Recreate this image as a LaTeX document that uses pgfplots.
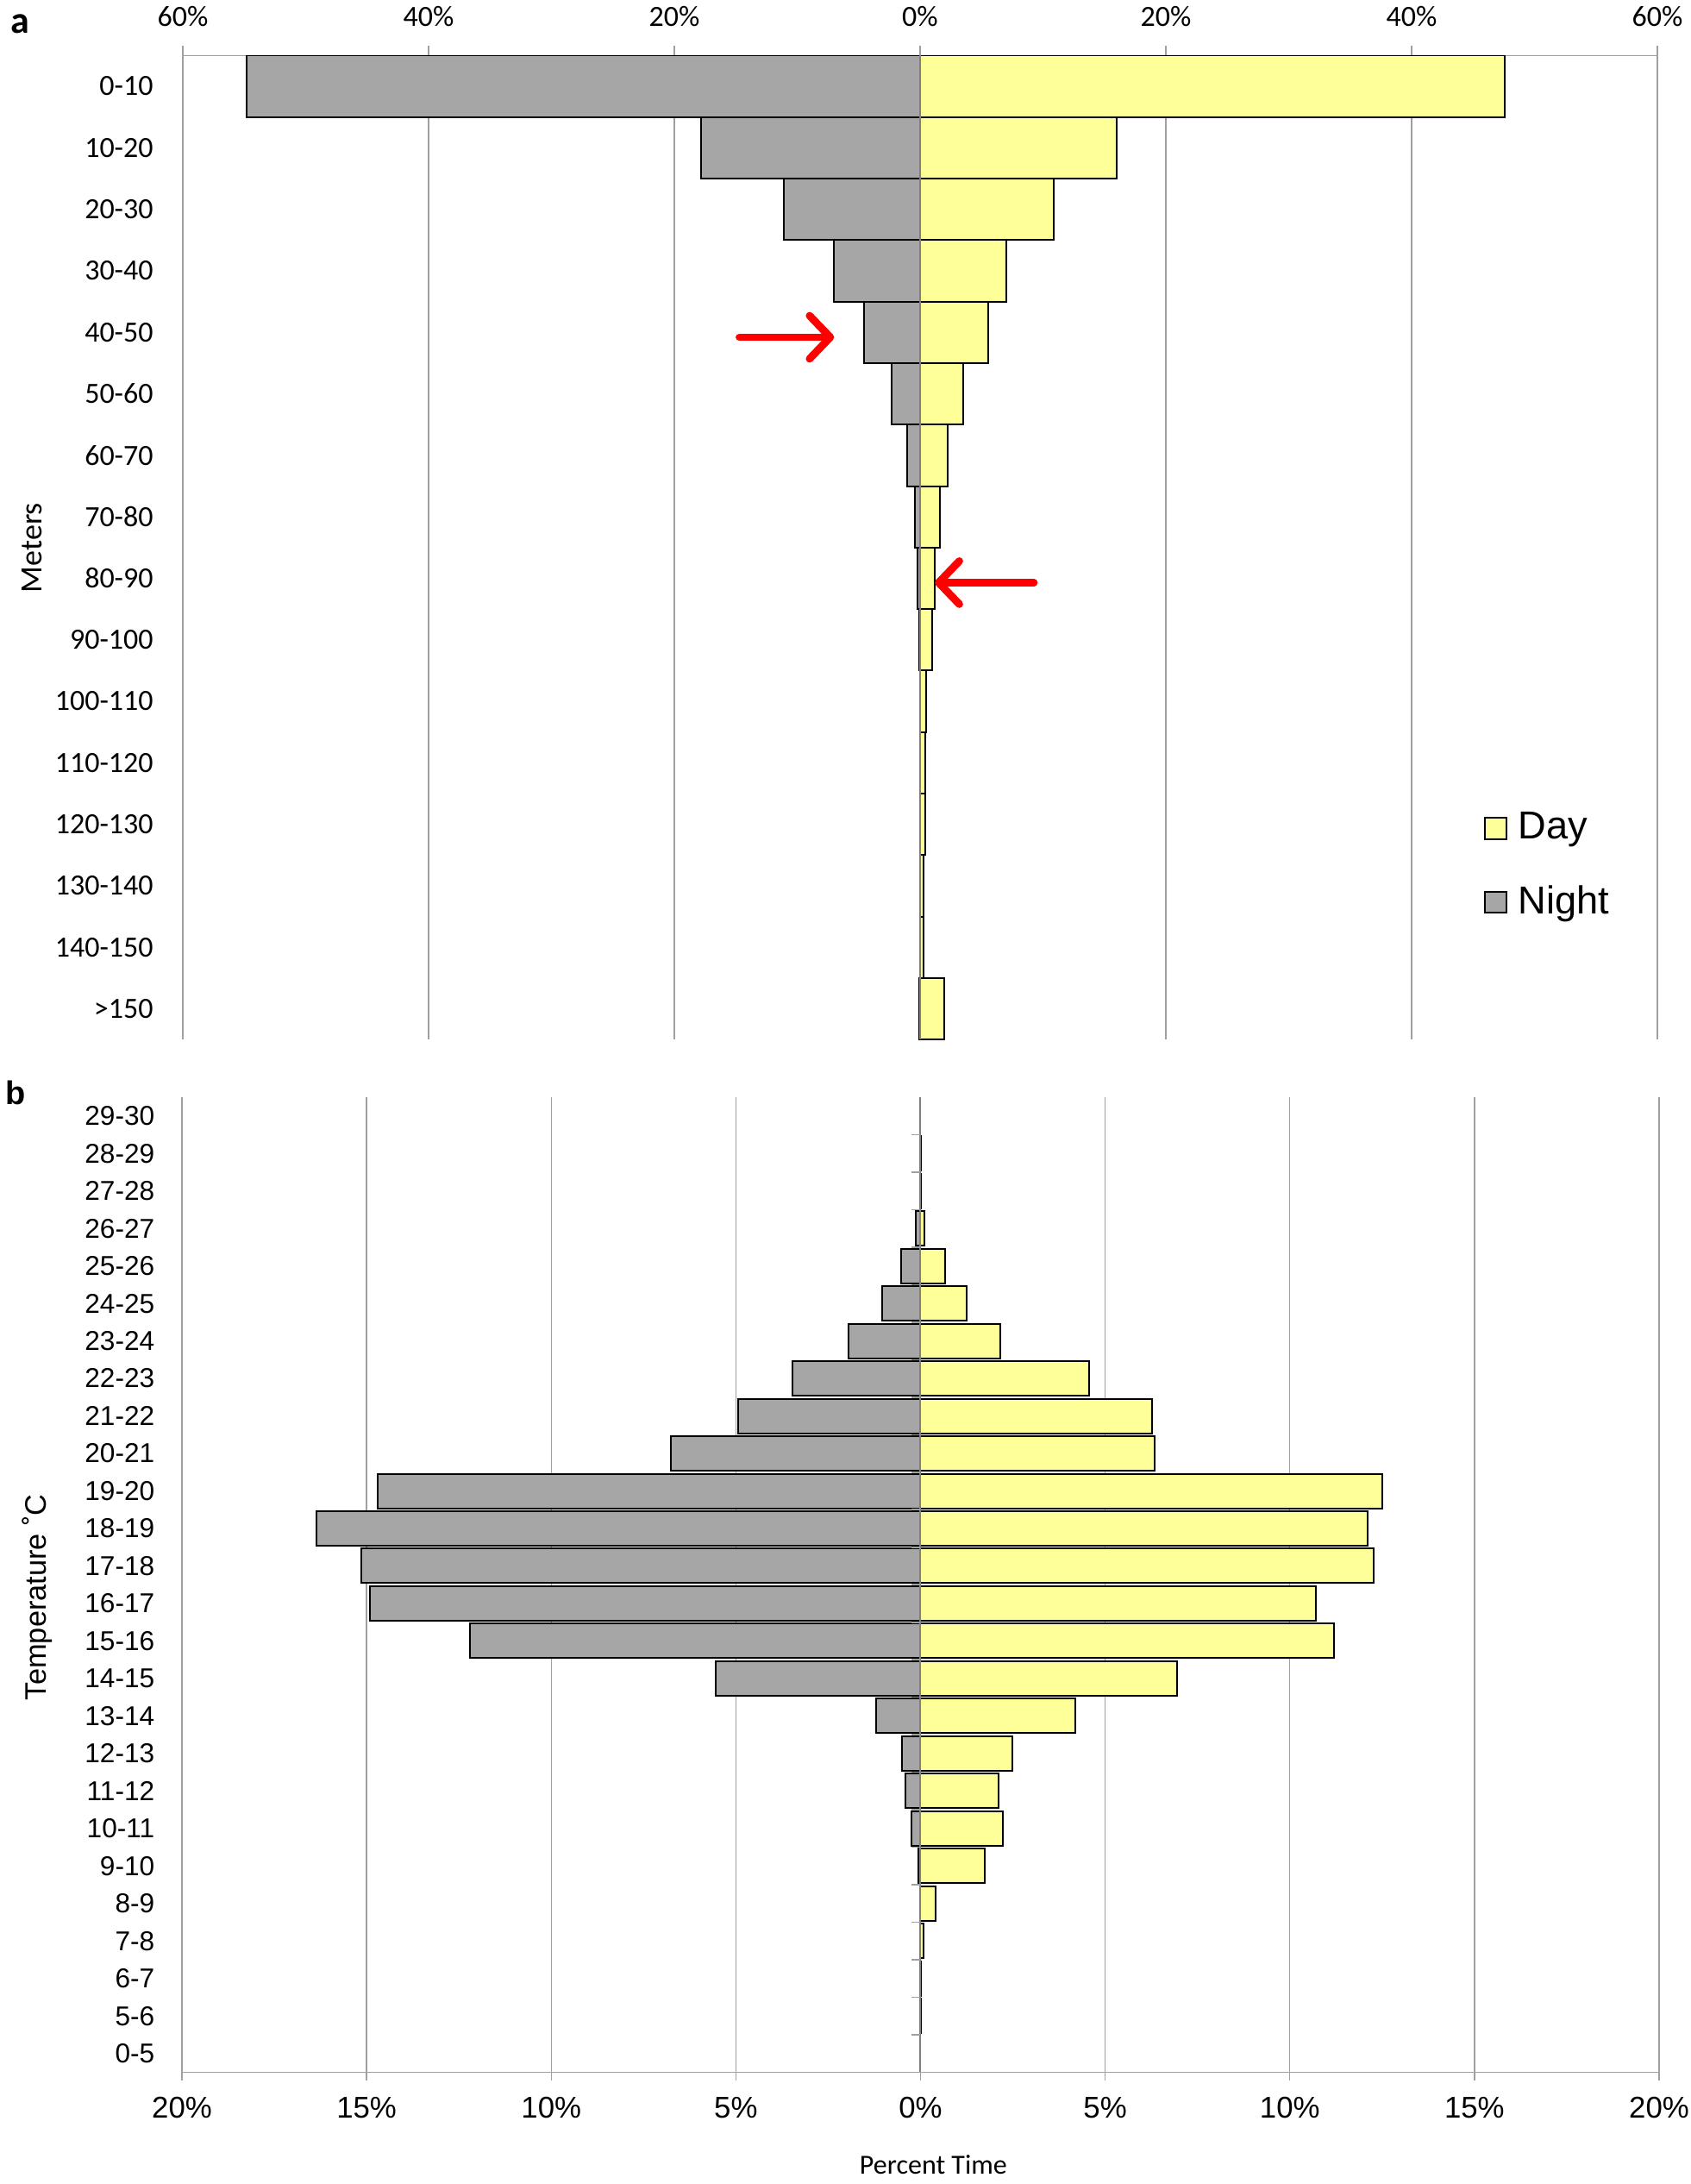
\documentclass[border=0pt]{standalone}
\usepackage{fontspec}
\setmainfont{Liberation Sans}
\newfontfamily\carlito{Carlito}
\usepackage{pgfplots}
\pgfplotsset{compat=1.18}
\usetikzlibrary{arrows.meta}
\definecolor{dayc}{HTML}{FFFF99}
\definecolor{nightc}{HTML}{A6A6A6}
\definecolor{gridc}{HTML}{A0A0A0}
\definecolor{zeroc}{HTML}{808080}

\begin{document}
\begin{tikzpicture}
\useasboundingbox (0,0) rectangle (490.25pt,-633pt);

% ---------------- panel a ----------------
\begin{axis}[
  at={(53pt,-16.1pt)}, anchor=north west,
  scale only axis, width=427.5pt, height=285.2pt,
  xbar, bar width=1, bar shift=0pt,
  xmin=-60, xmax=60, ymin=-0.5, ymax=15.5, y dir=reverse,
  axis x line*=top, axis y line*=left,
  x axis line style={draw=gridc, line width=0.4pt, -},
  y axis line style={draw=none},
  xtick={-60,-40,-20,0,20,40,60},
  xticklabels={60\%,40\%,20\%,0\%,20\%,40\%,60\%},
  xmajorgrids, grid style={gridc, line width=0.35pt},
  tick align=outside, major tick length=2.75pt,
  xtick style={gridc, line width=0.35pt},
  ytick={0,...,15},
  yticklabels={0-10,10-20,20-30,30-40,40-50,50-60,60-70,70-80,80-90,90-100,100-110,110-120,120-130,130-140,140-150,>150},
  ytick style={draw=none},
  tick label style={font=\carlito\fontsize{8.5}{10}\selectfont},
  xticklabel style={anchor=base, inner sep=0pt, yshift=5.85pt},
  yticklabel style={anchor=east, inner sep=0pt, xshift=-5.65pt},
  legend style={draw=none, fill=none, at={(axis description cs:0.8819,0.2353)}, anchor=north west,
     font=\fontsize{11.3}{13}\selectfont, row sep=10pt, column sep=2.2pt, inner sep=0pt,
     nodes={inner sep=1pt}},
  legend cell align=left,
  legend image code/.code={\draw[#1, line width=0.5pt] (0pt,-3.1pt) rectangle (6.2pt,3.1pt);},
]
\addplot[fill=dayc, draw=black, line width=0.5pt] coordinates {
 (47.6,0) (16.0,1) (10.9,2) (7.0,3) (5.55,4) (3.5,5) (2.25,6) (1.6,7) (1.16,8) (1.0,9)
 (0.5,10) (0.4,11) (0.4,12) (0.3,13) (0.25,14) (2.0,15)};
\addlegendentry{Day}
\addplot[fill=nightc, draw=black, line width=0.5pt] coordinates {
 (-54.8,0) (-17.8,1) (-11.1,2) (-7.0,3) (-4.55,4) (-2.3,5) (-1.05,6) (-0.45,7) (-0.18,8) (-0.05,9)
 (-0.03,10) (-0.03,11) (-0.03,12) (-0.03,13) (-0.03,14) (-0.05,15)};
\addlegendentry{Night}
\draw[zeroc, line width=0.5pt] (axis cs:0,-0.5) -- (axis cs:0,15.5);
\draw[red, line width=2.2pt, line cap=round, -{Straight Barb[length=6pt,width=12.5pt,round]}]
  (axis cs:-14.7,4.08) -- (axis cs:-7.0,4.08);
\draw[red, line width=2.2pt, line cap=round, -{Straight Barb[length=6pt,width=12.5pt,round]}]
  (axis cs:9.26,8.07) -- (axis cs:1.2,8.07);
\end{axis}

% ---------------- panel b ----------------
\begin{axis}[
  at={(52.75pt,-318pt)}, anchor=north west,
  scale only axis, width=428.25pt, height=282.6pt,
  xbar, bar width=0.92, bar shift=0pt,
  xmin=-20, xmax=20, ymin=-0.5, ymax=25.5,
  axis x line*=bottom, axis y line*=left,
  x axis line style={draw=gridc, line width=0.4pt, -},
  y axis line style={draw=none},
  xtick={-20,-15,...,20},
  xticklabels={20\%,15\%,10\%,5\%,0\%,5\%,10\%,15\%,20\%},
  xmajorgrids, grid style={gridc, line width=0.35pt},
  tick align=outside, major tick length=2.5pt,
  xtick style={gridc, line width=0.35pt},
  ytick={0,...,25},
  yticklabels={0-5,5-6,6-7,7-8,8-9,9-10,10-11,11-12,12-13,13-14,14-15,15-16,16-17,17-18,18-19,19-20,20-21,21-22,22-23,23-24,24-25,25-26,26-27,27-28,28-29,29-30},
  ytick style={draw=none},
  xticklabel style={font=\fontsize{8.7}{10}\selectfont, anchor=base, inner sep=0pt, yshift=-10.65pt},
  yticklabel style={font=\fontsize{7.9}{9}\selectfont, anchor=east, inner sep=0pt, xshift=-5.25pt},
]
\addplot[fill=dayc, draw=black, line width=0.5pt] coordinates {
 (0.01,1) (0.01,2) (0.08,3) (0.41,4) (1.75,5) (2.22,6) (2.11,7) (2.49,8) (4.19,9) (6.94,10)
 (11.2,11) (10.7,12) (12.26,13) (12.1,14) (12.5,15) (6.34,16) (6.26,17) (4.57,18) (2.15,19)
 (1.25,20) (0.66,21) (0.1,22) (0.01,23) (0.01,24)};
\addplot[fill=nightc, draw=black, line width=0.5pt] coordinates {
 (-0.02,3) (-0.06,5) (-0.25,6) (-0.4,7) (-0.5,8) (-1.2,9) (-5.55,10) (-12.2,11) (-14.9,12)
 (-15.15,13) (-16.35,14) (-14.7,15) (-6.75,16) (-4.95,17) (-3.47,18) (-1.94,19) (-1.03,20)
 (-0.53,21) (-0.12,22)};
\draw[zeroc, line width=0.5pt] (axis cs:0,-0.5) -- (axis cs:0,25.5);
\pgfplotsinvokeforeach{0.5,1.5,...,24.5}{
  \draw[gridc, line width=0.4pt] (axis cs:0,#1) -- ++(-2.5pt,0pt);
}
\end{axis}

% ---------------- labels ----------------
\node[anchor=base west, inner sep=0pt, font=\carlito\bfseries\fontsize{11}{13}\selectfont] at (3pt,-9.6pt) {a};
\node[anchor=base west, inner sep=0pt, font=\bfseries\fontsize{9.5}{11}\selectfont] at (1.5pt,-320pt) {b};
\node[rotate=90, anchor=base, inner sep=0pt, font=\carlito\fontsize{9}{11}\selectfont] at (12.1pt,-158.75pt) {Meters};
\node[rotate=90, anchor=base, inner sep=0pt, font=\fontsize{8.6}{10}\selectfont] at (13.3pt,-462.9pt) {Temperature ˚C};
\node[anchor=base, inner sep=0pt, font=\carlito\fontsize{8}{10}\selectfont] at (270.6pt,-630pt) {Percent Time};
\end{tikzpicture}
\end{document}
